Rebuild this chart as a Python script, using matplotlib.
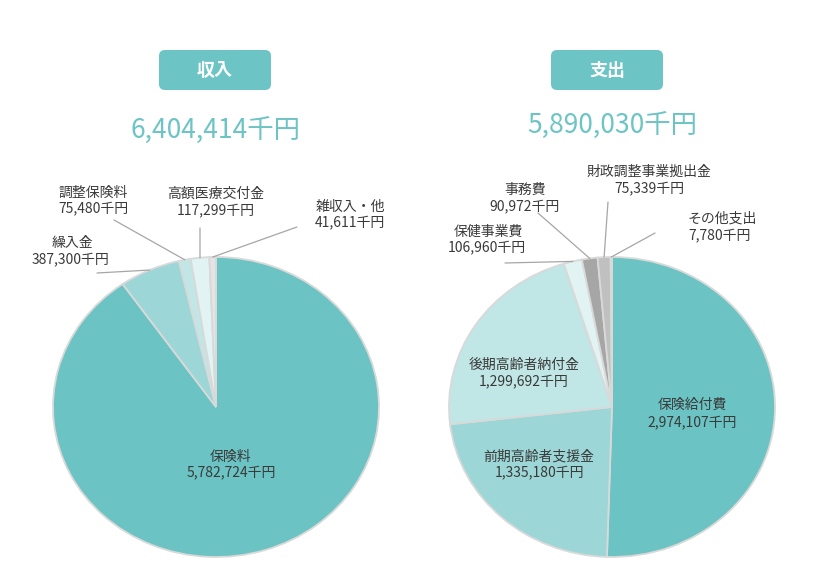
import matplotlib
matplotlib.use("Agg")
import matplotlib.pyplot as plt
from matplotlib.patches import FancyBboxPatch
import numpy as np

plt.rcParams['font.family'] = ['Noto Sans CJK JP', 'DejaVu Sans']

# ---- data ----
income_labels = ["保険料", "繰入金", "調整保険料", "高額医療交付金", "雑収入・他"]
income_values = [5782724, 387300, 75480, 117299, 41611]
expense_labels = ["保険給付費", "前期高齢者支援金", "後期高齢者納付金", "保健事業費",
                  "事務費", "財政調整事業拠出金", "その他支出"]
expense_values = [2974107, 1335180, 1299692, 106960, 90972, 75339, 7780]
income_title = "収入"
expense_title = "支出"
unit = "千円"

income_colors = ["#6BC3C3", "#9DD6D6", "#C0E6E6", "#E1F3F3", "#E4E4E4"]
expense_colors = ["#6BC3C3", "#9DD6D6", "#C0E6E6", "#E1F3F3", "#A6A6A6", "#C0C0C0", "#D9D9D9"]

W, H = 839, 585
fig = plt.figure(figsize=(W / 100, H / 100), dpi=100)
T = fig.dpi_scale_trans


def P(x, y):
    return x / 100.0, (H - y) / 100.0


def fmt(v):
    return f"{v:,}{unit}"


# label layout (pixel positions): (line1 center, line2 center, leader start or None)
income_layout = [
    ((231, 457), (231, 473), None),
    ((72, 243), (71, 260), (97, 273)),
    ((93, 193), (93, 209), (114, 220)),
    ((216, 194), (216, 211), (200, 228)),
    ((350, 207), (350, 223), (297, 227)),
]
expense_layout = [
    ((692, 405), (692, 423), None),
    ((539, 457), (539, 473), None),
    ((524, 365), (524, 382), None),
    ((488, 232), (487, 248), (505, 263)),
    ((525, 190), (525, 207), (538, 213)),
    ((649, 172), (649, 189), (608, 202)),
    ((722, 219), (720, 236), (655, 233)),
]


def draw_pie(cx, cy, rx, ry, values, colors, labels, layout, title, box, total_y):
    pad = 1.06
    rect = [(cx - rx * pad) / W, (H - cy - ry * pad) / H, 2 * rx * pad / W, 2 * ry * pad / H]
    ax = fig.add_axes(rect)
    wedges, _ = ax.pie(values, colors=colors, startangle=90, counterclock=False,
                       wedgeprops=dict(edgecolor="#D9D9D9", linewidth=1.3))
    ax.set_aspect('auto')
    ax.set_xlim(-pad, pad)
    ax.set_ylim(-pad, pad)
    ax.axis('off')
    for w, lab, v, (l1, l2, st) in zip(wedges, labels, values, layout):
        fig.text(*P(*l1), lab, transform=T, ha='center', va='center',
                 fontsize=10, color="#3A3A3A")
        fig.text(*P(*l2), fmt(v), transform=T, ha='center', va='center',
                 fontsize=10, color="#3A3A3A")
        if st is not None:
            mid = np.deg2rad((w.theta1 + w.theta2) / 2)
            ax.annotate('', xy=(np.cos(mid), np.sin(mid)), xycoords='data',
                        xytext=P(*st), textcoords=T,
                        arrowprops=dict(arrowstyle='-', color="#A6A6A6", lw=0.9,
                                        shrinkA=0, shrinkB=0),
                        annotation_clip=False)
    # title box
    x0, y0, x1, y1 = box
    bx, by = P(x0, y1)
    fig.add_artist(FancyBboxPatch((bx, by), (x1 - x0) / 100, (y1 - y0) / 100,
                                  boxstyle="round,pad=0,rounding_size=0.06",
                                  transform=T, facecolor="#6CC4C4", edgecolor="none"))
    fig.text(*P((x0 + x1) / 2, (y0 + y1) / 2 + 1), title, transform=T, ha='center', va='center',
             fontsize=13, fontweight='bold', color="white")
    fig.text(*P(cx, total_y), fmt(sum(values)), transform=T, ha='center', va='center',
             fontsize=19, color="#6CC4C4")


draw_pie(216, 407, 163, 150, income_values, income_colors, income_labels, income_layout,
         income_title, (159, 50, 271, 90), 130)
draw_pie(612, 407, 163, 150, expense_values, expense_colors, expense_labels, expense_layout,
         expense_title, (551, 50, 663, 90), 125)

fig.savefig("out.png", dpi=100)
